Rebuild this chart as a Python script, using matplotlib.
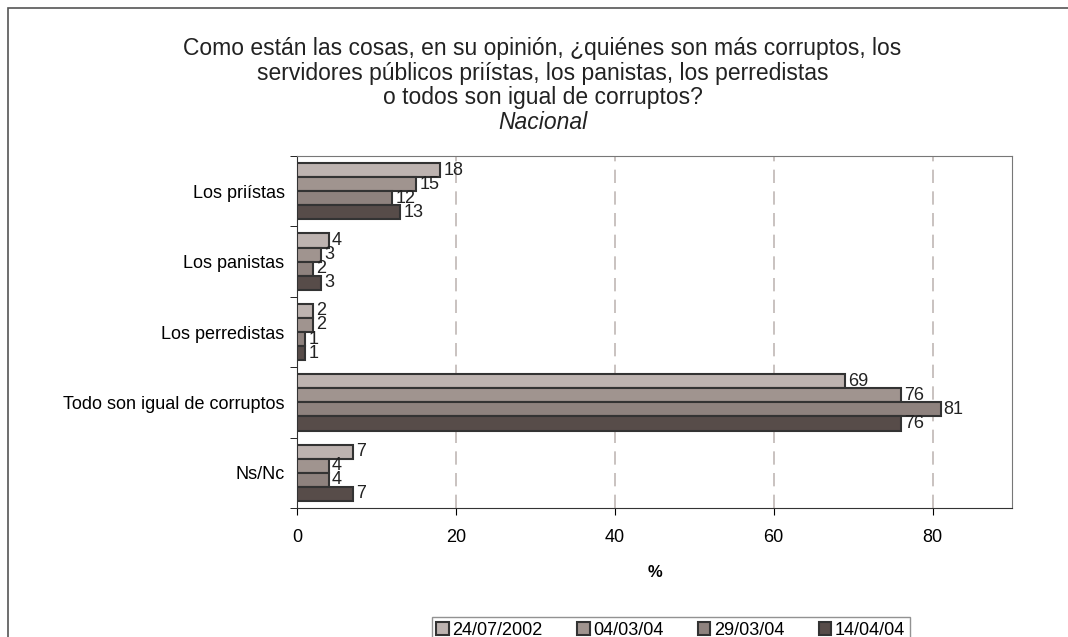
import matplotlib.pyplot as plt
import numpy as np
from matplotlib.patches import Rectangle

plt.rcParams['font.family'] = ['Liberation Sans', 'DejaVu Sans']

# Datos
categorias = ['Los priístas', 'Los panistas', 'Los perredistas',
              'Todo son igual de corruptos', 'Ns/Nc']
fechas = ['24/07/2002', '04/03/04', '29/03/04', '14/04/04']
valores = [
    [18, 4, 2, 69, 7],
    [15, 3, 2, 76, 4],
    [12, 2, 1, 81, 4],
    [13, 3, 1, 76, 7],
]
colores = ['#bdb3b0', '#a0948f', '#8e827e', '#574c49']

fig = plt.figure(figsize=(10.68, 6.37), dpi=100)
ax = fig.add_axes([0.2781, 0.2025, 0.6695, 0.5526])

# Marco exterior (solo se ve izquierda y arriba)
fig.patches.append(Rectangle((8 / 1068, -0.1), 1.2, 1.1 - 8 / 637,
                             transform=fig.transFigure, fill=False,
                             edgecolor='#555555', linewidth=1.2))

y = np.arange(len(categorias))
alto = 0.2
for i, (serie, color) in enumerate(zip(valores, colores)):
    pos = y - 0.3 + i * alto
    ax.barh(pos, serie, height=alto, color=color, edgecolor='#333333',
            linewidth=1.5, label=fechas[i], zorder=3)
    for p, v in zip(pos, serie):
        ax.text(v + 0.4, p, str(v), va='center', ha='left', fontsize=13,
                color='#222222', zorder=4)

ax.set_ylim(len(categorias) - 0.5, -0.5)
ax.set_xlim(0, 90)
ax.set_xticks([0, 20, 40, 60, 80])
ax.set_yticks(y)
ax.set_yticklabels(categorias, fontsize=13)
ax.set_yticks(np.arange(len(categorias) + 1) - 0.5, minor=True)
ax.tick_params(axis='y', which='major', length=0, pad=9)
ax.tick_params(axis='y', which='minor', length=5, direction='out')
ax.tick_params(axis='x', labelsize=13, length=5, direction='out', pad=10)
ax.set_xlabel('%', fontsize=12, fontweight='bold', labelpad=14)

ax.xaxis.grid(True, color='#c0b8b5', linestyle=(0, (8, 5)), linewidth=1.2, zorder=0)
for s in ['top', 'right']:
    ax.spines[s].set_color('#777777')
for s in ['left', 'bottom']:
    ax.spines[s].set_color('#333333')

fig.text(0.508, 0.885, 'Como están las cosas, en su opinión, ¿quiénes son más corruptos, los\n'
         'servidores públicos priístas, los panistas, los perredistas\n'
         'o todos son igual de corruptos?',
         ha='center', va='center', fontsize=16.5, linespacing=1.07, color='#222222')
fig.text(0.508, 0.807, 'Nacional', ha='center', va='center', fontsize=16.5,
         style='italic', color='#222222')

leg = fig.legend(loc='upper center', bbox_to_anchor=(0.628, 0.0455), ncol=4,
                 fontsize=13, frameon=True, fancybox=False, edgecolor='#777777',
                 handlelength=0.7, handleheight=0.7, handletextpad=0.2,
                 columnspacing=1.9, borderpad=0.25)
leg.get_frame().set_linewidth(1.0)

fig.savefig('out.png', dpi=100)
